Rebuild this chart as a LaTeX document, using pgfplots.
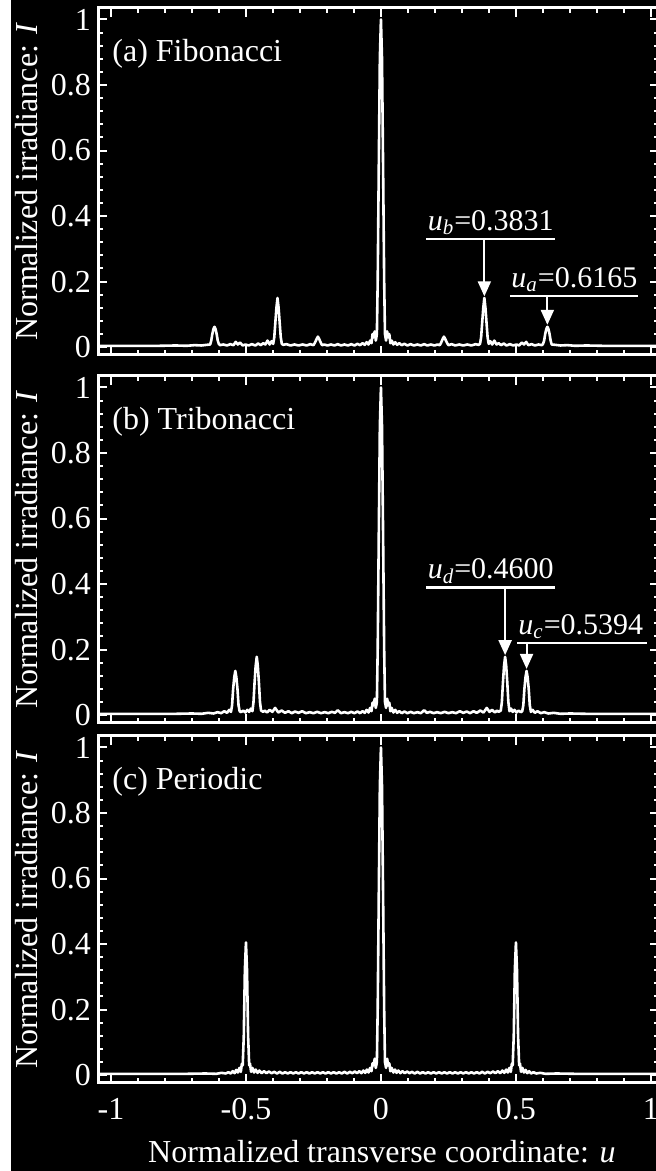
\documentclass[border=0pt]{standalone}
\usepackage{fontspec}
\setmainfont{Liberation Serif}
\usepackage{pgfplots}
\pgfplotsset{compat=1.18}
\usetikzlibrary{arrows.meta}

\pgfplotsset{
  panel/.style={
    scale only axis, width=280.5pt, height=173.5pt,
    xmin=-1.048, xmax=1.03, ymin=-0.024, ymax=1.035,
    axis line style={white, line width=1.5pt},
    tick style={white, line width=1pt},
    major tick length=4.5pt, minor tick length=2.5pt,
    tick align=inside,
    xtick={-1,-0.5,0,0.5,1}, minor x tick num=4,
    ytick={0,0.2,0.4,0.6,0.8,1}, minor y tick num=4,
    /pgf/number format/assume math mode=true,
    tick label style={font=\fontsize{16}{18}\selectfont, color=white},
    label style={font=\fontsize{16}{18}\selectfont, color=white},
    ylabel={Normalized irradiance: \textit{I}},
    ylabel style={at={(axis description cs:-0.1266,0.5)}, anchor=center},
    clip=false,
  },
}
\tikzset{
  curve/.style={white, line width=1.3pt, line join=round, mark=none},
  ann/.style={white, line width=1.4pt},
  arr/.style={white, line width=1pt, -{Triangle[width=6.5pt,length=7.5pt]}},
  anntext/.style={anchor=base west, inner sep=0pt, text=white, font=\fontsize{15}{17}\selectfont},
  plabel/.style={anchor=west, inner sep=0pt, text=white, font=\fontsize{16}{18}\selectfont},
}

\begin{document}
\begin{tikzpicture}
\useasboundingbox (0,0) rectangle (328pt,585.5pt);
\fill[black] (0,0) rectangle (328pt,585.5pt);
\fill[white] (0,0) rectangle (5.5pt,585.5pt);
\clip (0,0) rectangle (328pt,585.5pt);

% ---------------- (a) Fibonacci ----------------
\begin{axis}[panel, at={(49pt,408pt)}, anchor=south west, xticklabels={}]
\addplot[curve] coordinates {
(-1.050,0.004) (-0.900,0.004) (-0.820,0.004) (-0.760,0.005) (-0.720,0.004) (-0.690,0.006)
(-0.665,0.005) (-0.645,0.007) (-0.6325,0.008) (-0.6285,0.020) (-0.6245,0.040) (-0.6205,0.055)
(-0.6165,0.062) (-0.6125,0.055) (-0.6085,0.040) (-0.6045,0.020) (-0.6005,0.010) (-0.596,0.006)
(-0.584,0.008) (-0.570,0.005) (-0.558,0.009) (-0.546,0.006) (-0.538,0.016) (-0.530,0.008)
(-0.522,0.014) (-0.512,0.005) (-0.502,0.008) (-0.490,0.005) (-0.478,0.009) (-0.465,0.005)
(-0.455,0.011) (-0.445,0.006) (-0.436,0.012) (-0.428,0.008) (-0.420,0.020) (-0.412,0.008)
(-0.405,0.018) (-0.3991,0.010) (-0.3951,0.030) (-0.3911,0.075) (-0.3871,0.120) (-0.3831,0.150)
(-0.3791,0.120) (-0.3751,0.075) (-0.3711,0.030) (-0.3671,0.010) (-0.362,0.007) (-0.350,0.009)
(-0.335,0.005) (-0.320,0.008) (-0.305,0.005) (-0.290,0.008) (-0.275,0.005) (-0.262,0.009)
(-0.250,0.006) (-0.2454,0.012) (-0.2374,0.026) (-0.2334,0.032) (-0.2294,0.026) (-0.222,0.012)
(-0.218,0.006) (-0.210,0.008) (-0.198,0.005) (-0.185,0.008) (-0.172,0.005) (-0.160,0.009)
(-0.148,0.005) (-0.135,0.008) (-0.122,0.005) (-0.110,0.009) (-0.098,0.005) (-0.087,0.010)
(-0.077,0.006) (-0.068,0.012) (-0.060,0.007) (-0.053,0.015) (-0.046,0.008) (-0.040,0.020)
(-0.035,0.012) (-0.031,0.040) (-0.027,0.030) (-0.023,0.048) (-0.019,0.020) (-0.015,0.040)
(-0.012,0.200) (-0.008,0.550) (-0.004,0.880) (0.000,1.000)
(0.004,0.880) (0.008,0.550) (0.012,0.200) (0.015,0.040) (0.019,0.020) (0.023,0.048)
(0.027,0.030) (0.031,0.040) (0.035,0.012) (0.040,0.020) (0.046,0.008) (0.053,0.015)
(0.060,0.007) (0.068,0.012) (0.077,0.006) (0.087,0.010) (0.098,0.005) (0.110,0.009)
(0.122,0.005) (0.135,0.008) (0.148,0.005) (0.160,0.009) (0.172,0.005) (0.185,0.008)
(0.198,0.005) (0.210,0.008) (0.218,0.006) (0.222,0.012) (0.2294,0.026) (0.2334,0.032)
(0.2374,0.026) (0.2454,0.012) (0.250,0.006) (0.262,0.009) (0.275,0.005) (0.290,0.008)
(0.305,0.005) (0.320,0.008) (0.335,0.005) (0.350,0.009) (0.362,0.007) (0.3671,0.010)
(0.3711,0.030) (0.3751,0.075) (0.3791,0.120) (0.3831,0.150) (0.3871,0.120) (0.3911,0.075)
(0.3951,0.030) (0.3991,0.010) (0.405,0.018) (0.412,0.008) (0.420,0.020) (0.428,0.008)
(0.436,0.012) (0.445,0.006) (0.455,0.011) (0.465,0.005) (0.478,0.009) (0.490,0.005)
(0.502,0.008) (0.512,0.005) (0.522,0.014) (0.530,0.008) (0.538,0.016) (0.546,0.006)
(0.558,0.009) (0.570,0.005) (0.584,0.008) (0.596,0.006) (0.6005,0.010) (0.6045,0.020)
(0.6085,0.040) (0.6125,0.055) (0.6165,0.062) (0.6205,0.055) (0.6245,0.040) (0.6285,0.020)
(0.6325,0.008) (0.645,0.007) (0.665,0.005) (0.690,0.006) (0.720,0.004) (0.760,0.005)
(0.820,0.004) (0.900,0.004) (1.050,0.004)
};
\node[plabel] at (axis cs:-0.996,0.895) {(a) Fibonacci};
\draw[ann] (axis cs:0.168,0.330) -- (axis cs:0.644,0.330);
\draw[arr] (axis cs:0.3831,0.330) -- (axis cs:0.3831,0.155);
\node[anntext] at (axis cs:0.172,0.357) {\textit{u}\textsubscript{\textit{b}}=0.3831};
\draw[ann] (axis cs:0.478,0.156) -- (axis cs:0.952,0.156);
\draw[arr] (axis cs:0.6165,0.156) -- (axis cs:0.6165,0.068);
\node[anntext] at (axis cs:0.482,0.183) {\textit{u}\textsubscript{\textit{a}}=0.6165};
\end{axis}

% ---------------- (b) Tribonacci ----------------
\begin{axis}[panel, at={(49pt,224pt)}, anchor=south west, xticklabels={}]
\addplot[curve] coordinates {
(-1.050,0.004) (-0.850,0.004) (-0.760,0.004) (-0.700,0.005) (-0.665,0.004) (-0.640,0.007)
(-0.620,0.005) (-0.605,0.009) (-0.592,0.006) (-0.580,0.012) (-0.570,0.007) (-0.562,0.016)
(-0.5554,0.010) (-0.5514,0.030) (-0.5474,0.080) (-0.5434,0.115) (-0.5394,0.135) (-0.5354,0.115)
(-0.5314,0.080) (-0.5274,0.030) (-0.5234,0.012) (-0.518,0.009) (-0.510,0.014) (-0.502,0.008)
(-0.495,0.016) (-0.488,0.010) (-0.482,0.020) (-0.476,0.012) (-0.472,0.040) (-0.468,0.100)
(-0.464,0.150) (-0.460,0.178) (-0.456,0.150) (-0.452,0.100) (-0.448,0.040) (-0.444,0.014)
(-0.436,0.010) (-0.430,0.014) (-0.422,0.008) (-0.412,0.016) (-0.402,0.010) (-0.392,0.022)
(-0.380,0.008) (-0.368,0.014) (-0.355,0.007) (-0.343,0.012) (-0.330,0.006) (-0.318,0.011)
(-0.305,0.007) (-0.292,0.012) (-0.278,0.006) (-0.264,0.009) (-0.250,0.006) (-0.236,0.010)
(-0.222,0.006) (-0.208,0.009) (-0.195,0.006) (-0.182,0.010) (-0.170,0.007) (-0.160,0.015)
(-0.148,0.006) (-0.135,0.009) (-0.122,0.006) (-0.110,0.010) (-0.098,0.006) (-0.087,0.011)
(-0.077,0.006) (-0.068,0.012) (-0.060,0.007) (-0.053,0.016) (-0.046,0.008) (-0.040,0.022)
(-0.035,0.012) (-0.031,0.038) (-0.027,0.030) (-0.023,0.050) (-0.019,0.022) (-0.015,0.040)
(-0.012,0.200) (-0.008,0.550) (-0.004,0.880) (0.000,1.000)
(0.004,0.880) (0.008,0.550) (0.012,0.200) (0.015,0.040) (0.019,0.022) (0.023,0.050)
(0.027,0.030) (0.031,0.038) (0.035,0.012) (0.040,0.022) (0.046,0.008) (0.053,0.016)
(0.060,0.007) (0.068,0.012) (0.077,0.006) (0.087,0.011) (0.098,0.006) (0.110,0.010)
(0.122,0.006) (0.135,0.009) (0.148,0.006) (0.160,0.015) (0.170,0.007) (0.182,0.010)
(0.195,0.006) (0.208,0.009) (0.222,0.006) (0.236,0.010) (0.250,0.006) (0.264,0.009)
(0.278,0.006) (0.292,0.012) (0.305,0.007) (0.318,0.011) (0.330,0.006) (0.343,0.012)
(0.355,0.007) (0.368,0.014) (0.380,0.008) (0.392,0.022) (0.402,0.010) (0.412,0.016)
(0.422,0.008) (0.430,0.014) (0.436,0.010) (0.444,0.014) (0.448,0.040) (0.452,0.100)
(0.456,0.150) (0.460,0.178) (0.464,0.150) (0.468,0.100) (0.472,0.040) (0.476,0.012)
(0.482,0.020) (0.488,0.010) (0.495,0.016) (0.502,0.008) (0.510,0.014) (0.518,0.009)
(0.5234,0.012) (0.5274,0.030) (0.5314,0.080) (0.5354,0.115) (0.5394,0.135) (0.5434,0.115)
(0.5474,0.080) (0.5514,0.030) (0.5554,0.010) (0.562,0.016) (0.570,0.007) (0.580,0.012)
(0.592,0.006) (0.605,0.009) (0.620,0.005) (0.640,0.007) (0.665,0.004) (0.700,0.005)
(0.760,0.004) (0.850,0.004) (1.050,0.004)
};
\node[plabel] at (axis cs:-0.996,0.895) {(b) Tribonacci};
\draw[ann] (axis cs:0.168,0.390) -- (axis cs:0.644,0.390);
\draw[arr] (axis cs:0.4600,0.390) -- (axis cs:0.4600,0.183);
\node[anntext] at (axis cs:0.172,0.417) {\textit{u}\textsubscript{\textit{d}}=0.4600};
\draw[ann] (axis cs:0.504,0.220) -- (axis cs:0.985,0.220);
\draw[arr] (axis cs:0.5394,0.220) -- (axis cs:0.5394,0.141);
\node[anntext] at (axis cs:0.508,0.247) {\textit{u}\textsubscript{\textit{c}}=0.5394};
\end{axis}

% ---------------- (c) Periodic ----------------
\begin{axis}[panel, at={(49pt,44pt)}, anchor=south west,
  xticklabel style={yshift=-4pt},
  xlabel={Normalized transverse coordinate: \textit{u}},
  xlabel style={at={(axis description cs:0.506,-0.199)}, anchor=center}]
\addplot[curve] coordinates {
(-1.050,0.004) (-0.850,0.004) (-0.720,0.004) (-0.650,0.005) (-0.610,0.004) (-0.590,0.007)
(-0.575,0.005) (-0.565,0.009) (-0.556,0.005) (-0.549,0.012) (-0.542,0.006) (-0.536,0.016)
(-0.530,0.008) (-0.524,0.022) (-0.519,0.010) (-0.515,0.035) (-0.512,0.030) (-0.508,0.120)
(-0.504,0.320) (-0.500,0.405) (-0.496,0.320) (-0.492,0.120) (-0.488,0.030) (-0.485,0.035)
(-0.481,0.010) (-0.476,0.022) (-0.470,0.008) (-0.464,0.017) (-0.457,0.007) (-0.450,0.014)
(-0.442,0.006) (-0.433,0.012) (-0.424,0.006) (-0.415,0.011) (-0.405,0.006) (-0.395,0.010)
(-0.385,0.005) (-0.375,0.010) (-0.365,0.005) (-0.355,0.009) (-0.345,0.005) (-0.335,0.009)
(-0.325,0.005) (-0.315,0.009) (-0.305,0.005) (-0.295,0.009) (-0.285,0.005) (-0.275,0.009)
(-0.265,0.005) (-0.255,0.009) (-0.245,0.005) (-0.235,0.009) (-0.225,0.005) (-0.215,0.009)
(-0.205,0.005) (-0.195,0.009) (-0.185,0.005) (-0.175,0.009) (-0.165,0.005) (-0.155,0.009)
(-0.145,0.005) (-0.135,0.010) (-0.125,0.005) (-0.115,0.010) (-0.106,0.006) (-0.097,0.011)
(-0.088,0.006) (-0.080,0.012) (-0.072,0.006) (-0.065,0.014) (-0.058,0.007) (-0.052,0.017)
(-0.046,0.008) (-0.040,0.022) (-0.035,0.012) (-0.031,0.036) (-0.027,0.030) (-0.023,0.050)
(-0.019,0.022) (-0.015,0.040) (-0.012,0.200) (-0.008,0.550) (-0.004,0.880) (0.000,1.000)
(0.004,0.880) (0.008,0.550) (0.012,0.200) (0.015,0.040) (0.019,0.022) (0.023,0.050)
(0.027,0.030) (0.031,0.036) (0.035,0.012) (0.040,0.022) (0.046,0.008) (0.052,0.017)
(0.058,0.007) (0.065,0.014) (0.072,0.006) (0.080,0.012) (0.088,0.006) (0.097,0.011)
(0.106,0.006) (0.115,0.010) (0.125,0.005) (0.135,0.010) (0.145,0.005) (0.155,0.009)
(0.165,0.005) (0.175,0.009) (0.185,0.005) (0.195,0.009) (0.205,0.005) (0.215,0.009)
(0.225,0.005) (0.235,0.009) (0.245,0.005) (0.255,0.009) (0.265,0.005) (0.275,0.009)
(0.285,0.005) (0.295,0.009) (0.305,0.005) (0.315,0.009) (0.325,0.005) (0.335,0.009)
(0.345,0.005) (0.355,0.009) (0.365,0.005) (0.375,0.010) (0.385,0.005) (0.395,0.010)
(0.405,0.006) (0.415,0.011) (0.424,0.006) (0.433,0.012) (0.442,0.006) (0.450,0.014)
(0.457,0.007) (0.464,0.017) (0.470,0.008) (0.476,0.022) (0.481,0.010) (0.485,0.035)
(0.488,0.030) (0.492,0.120) (0.496,0.320) (0.500,0.405) (0.504,0.320) (0.508,0.120)
(0.512,0.030) (0.515,0.035) (0.519,0.010) (0.524,0.022) (0.530,0.008) (0.536,0.016)
(0.542,0.006) (0.549,0.012) (0.556,0.005) (0.565,0.009) (0.575,0.005) (0.590,0.007)
(0.610,0.004) (0.650,0.005) (0.720,0.004) (0.850,0.004) (1.050,0.004)
};
\node[plabel] at (axis cs:-0.996,0.895) {(c) Periodic};
\end{axis}
\end{tikzpicture}
\end{document}
